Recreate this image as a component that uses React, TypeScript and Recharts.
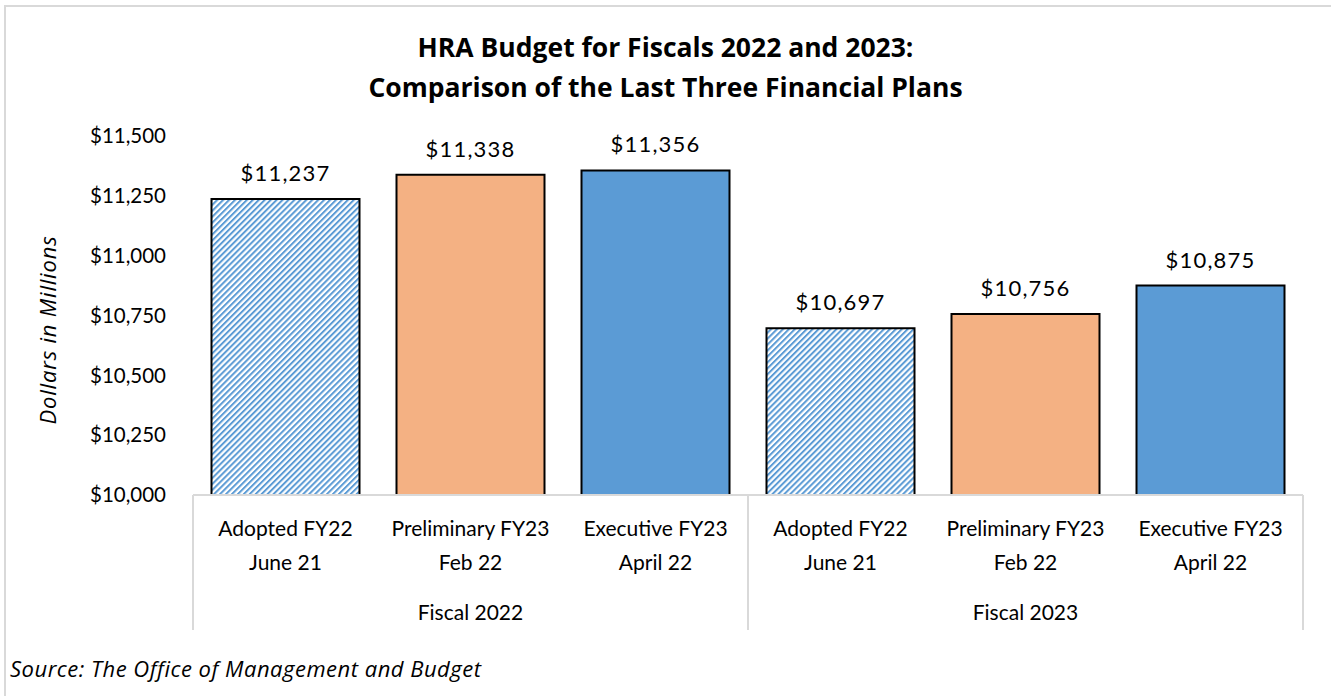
import { Bar, BarChart, Cell, LabelList, XAxis, YAxis } from 'recharts'

const planNames = ['Adopted FY22', 'Preliminary FY23', 'Executive FY23', 'Adopted FY22', 'Preliminary FY23', 'Executive FY23']
const planDates = ['June 21', 'Feb 22', 'April 22', 'June 21', 'Feb 22', 'April 22']
const fiscalGroups = ['Fiscal 2022', 'Fiscal 2022', 'Fiscal 2022', 'Fiscal 2023', 'Fiscal 2023', 'Fiscal 2023']
const budgetValues = [11237, 11338, 11356, 10697, 10756, 10875]
const barFills = ['url(#hatch)', '#F4B183', '#5B9BD5', 'url(#hatch)', '#F4B183', '#5B9BD5']
const yTicks = [10000, 10250, 10500, 10750, 11000, 11250, 11500]

const FONT = 'Lato, "Open Sans", sans-serif'
const WIDE = '"Open Sans", Lato, sans-serif'
const PLOT_W = 1110
const BAND = PLOT_W / planNames.length

const data = planNames.map((name, i) => ({
  key: `${i}`,
  name,
  date: planDates[i],
  group: fiscalGroups[i],
  value: budgetValues[i],
}))

const money = (v: number) => '$' + v.toLocaleString('en-US')

function CategoryTick(props: any) {
  const { x, y, payload, index } = props
  const d = data[index ?? payload.index]
  const half = payload?.offset || BAND / 2
  const grid = '#d9d9d9'
  return (
    <g>
      {index % 3 === 0 && <line x1={x - half} x2={x - half} y1={y} y2={y + 135} stroke={grid} strokeWidth={2} />}
      {index === data.length - 1 && <line x1={x + half} x2={x + half} y1={y} y2={y + 135} stroke={grid} strokeWidth={2} />}
      <text x={x} y={y + 41} textAnchor="middle" fontSize={21} fill="#000" fontFamily={FONT}>{d.name}</text>
      <text x={x} y={y + 75} textAnchor="middle" fontSize={21} fill="#000" fontFamily={FONT}>{d.date}</text>
      {index % 3 === 1 && (
        <text x={x} y={y + 125} textAnchor="middle" fontSize={21} fill="#000" fontFamily={FONT}>{d.group}</text>
      )}
    </g>
  )
}

export default function App() {
  return (
    <div style={{ position: 'absolute', left: 0, top: 0, width: 1331, height: 696, background: '#fff', fontFamily: FONT, overflow: 'hidden' }}>
      <div style={{ position: 'absolute', left: 4, top: 5, width: 1360, height: 720, border: '2px solid #d9d9d9', boxSizing: 'border-box' }} />
      <div style={{ position: 'absolute', left: 0, top: 27, width: 1331, textAlign: 'center', fontSize: 26.5, fontWeight: 700, lineHeight: '40px', color: '#000', fontFamily: WIDE }}>
        HRA Budget for Fiscals 2022 and 2023:
        <br />
        Comparison of the Last Three Financial Plans
      </div>
      <div style={{ position: 'absolute', left: 47, top: 330, transform: 'translate(-50%, -50%) rotate(-90deg)', fontSize: 22, letterSpacing: 0.8, fontStyle: 'italic', whiteSpace: 'nowrap', color: '#000', fontFamily: WIDE }}>
        Dollars in Millions
      </div>
      <div style={{ position: 'absolute', left: 10, top: 653, fontSize: 22, letterSpacing: 0.5, fontStyle: 'italic', color: '#000', whiteSpace: 'nowrap', fontFamily: WIDE }}>
        Source: The Office of Management and Budget
      </div>
      <div style={{ position: 'absolute', left: 0, top: 0 }}>
        <BarChart width={1331} height={696} data={data} margin={{ top: 136, right: 28, bottom: 61, left: 0 }} barCategoryGap="10%">
          <defs>
            <pattern id="hatch" patternUnits="userSpaceOnUse" width={4.2} height={4.2} patternTransform="rotate(45)">
              <rect x={0} y={0} width={4.2} height={4.2} fill="#fff" />
              <rect x={0} y={0} width={2} height={4.2} fill="#5B9BD5" />
            </pattern>
          </defs>
          <YAxis
            type="number"
            domain={[10000, 11500]}
            ticks={yTicks}
            tickFormatter={money}
            width={193}
            axisLine={false}
            tickLine={false}
            tickSize={0}
            tickMargin={27}
            tick={{ fontSize: 20.5, fill: '#000', fontFamily: FONT }}
            allowDataOverflow
          />
          <XAxis
            dataKey="key"
            height={140}
            axisLine={{ stroke: '#d9d9d9', strokeWidth: 2 }}
            tickLine={false}
            tickSize={0}
            tickMargin={0}
            interval={0}
            tick={<CategoryTick />}
          />
          <Bar dataKey="value" stroke="#000" strokeWidth={2} isAnimationActive={false}>
            {data.map((d, i) => (
              <Cell key={d.key} fill={barFills[i]} />
            ))}
            <LabelList
              dataKey="value"
              position="top"
              offset={18}
              formatter={(v: any) => money(Number(v))}
              style={{ fontSize: 22, letterSpacing: 1.2, fill: '#000', fontFamily: FONT }}
            />
          </Bar>
        </BarChart>
      </div>
    </div>
  )
}
